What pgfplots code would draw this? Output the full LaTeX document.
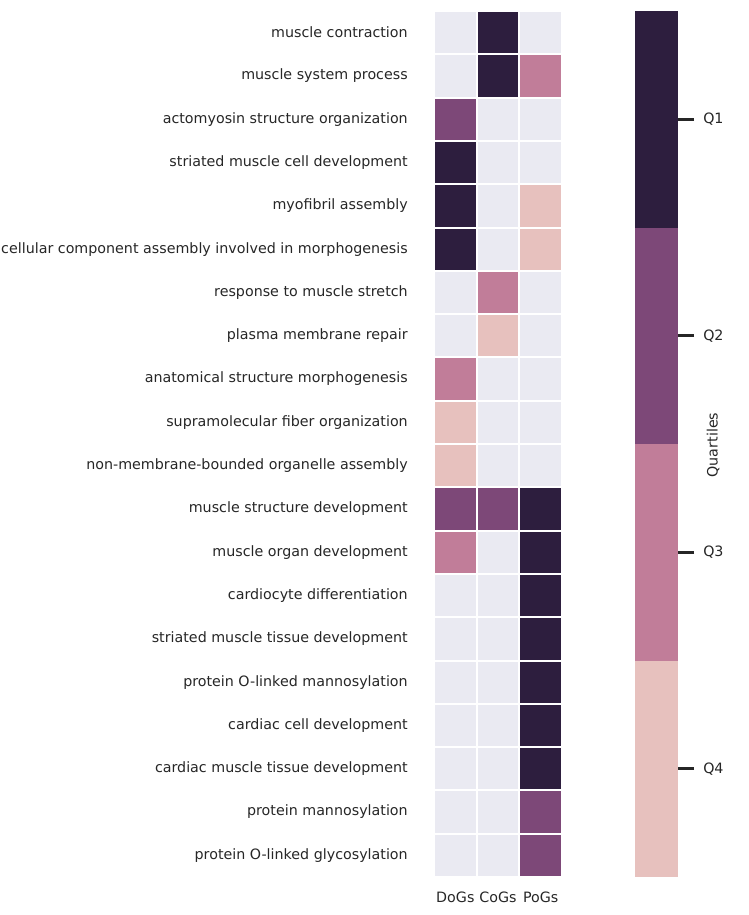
\documentclass[border=0pt]{standalone}
\usepackage{pgfplots}
\pgfplotsset{compat=1.18}
\usepackage{fontspec}
\setmainfont{DejaVu Sans}
\definecolor{txt}{RGB}{38,38,38}
\definecolor{bgc}{RGB}{234,234,242}
\definecolor{qa}{RGB}{45,30,62}
\definecolor{qb}{RGB}{125,72,120}
\definecolor{qc}{RGB}{193,125,153}
\definecolor{qd}{RGB}{231,193,190}
\begin{document}
\begin{tikzpicture}
\useasboundingbox (0,0) rectangle (561.75pt,686.25pt);
\begin{axis}[
  at={(325.5pt,28.5pt)}, anchor=south west,
  scale only axis, width=96pt, height=649.5pt,
  xmin=-0.5, xmax=2.5, ymin=-0.5, ymax=19.5, y dir=reverse,
  axis line style={draw=none},
  major tick length=0pt,
  xtick={0,1,2}, xticklabels={DoGs,CoGs,PoGs},
  ytick={0,...,19},
  yticklabels={muscle contraction,muscle system process,actomyosin structure organization,striated muscle cell development,myofibril assembly,cellular component assembly involved in morphogenesis,response to muscle stretch,plasma membrane repair,anatomical structure morphogenesis,supramolecular fiber organization,non-membrane-bounded organelle assembly,muscle structure development,muscle organ development,cardiocyte differentiation,striated muscle tissue development,protein O-linked mannosylation,cardiac cell development,cardiac muscle tissue development,protein mannosylation,protein O-linked glycosylation},
  tick label style={font=\fontsize{10.7}{12.5}\selectfont, text=txt},
  yticklabel style={inner sep=0pt, xshift=-19.5pt},
  xticklabel style={inner sep=0pt, yshift=-11pt},
  colormap={quart}{rgb255=(234,234,242) rgb255=(45,30,62) rgb255=(125,72,120) rgb255=(193,125,153) rgb255=(231,193,190)},
  colormap access=direct,
]
\addplot[matrix plot*, mesh/cols=3, point meta=explicit, draw=white, line width=1.5pt] table[meta=c] {
x y c
0 0 0
1 0 1
2 0 0
0 1 0
1 1 1
2 1 3
0 2 2
1 2 0
2 2 0
0 3 1
1 3 0
2 3 0
0 4 1
1 4 0
2 4 4
0 5 1
1 5 0
2 5 4
0 6 0
1 6 3
2 6 0
0 7 0
1 7 4
2 7 0
0 8 3
1 8 0
2 8 0
0 9 4
1 9 0
2 9 0
0 10 4
1 10 0
2 10 0
0 11 2
1 11 2
2 11 1
0 12 3
1 12 0
2 12 1
0 13 0
1 13 0
2 13 1
0 14 0
1 14 0
2 14 1
0 15 0
1 15 0
2 15 1
0 16 0
1 16 0
2 16 1
0 17 0
1 17 0
2 17 1
0 18 0
1 18 0
2 18 2
0 19 0
1 19 0
2 19 2
};
\end{axis}
\begin{axis}[
  at={(476.25pt,28.5pt)}, anchor=south west,
  scale only axis, width=32.25pt, height=649.5pt,
  xmin=0, xmax=1, ymin=0.5, ymax=4.5, y dir=reverse,
  axis line style={draw=none},
  xtick=\empty, ytick={1,2,3,4}, yticklabels={Q1,Q2,Q3,Q4},
  ytick pos=right, yticklabel pos=right, tick align=outside,
  major tick length=12pt, major tick style={line width=2.6pt, color=txt},
  tick label style={font=\fontsize{10.7}{12.5}\selectfont, text=txt},
  yticklabel style={inner sep=0pt, xshift=6.75pt},
]
\addplot[xbar, bar width=1, fill=qa, draw=none] coordinates {(1,1)};
\addplot[xbar, bar width=1, fill=qb, draw=none] coordinates {(1,2)};
\addplot[xbar, bar width=1, fill=qc, draw=none] coordinates {(1,3)};
\addplot[xbar, bar width=1, fill=qd, draw=none] coordinates {(1,4)};
\end{axis}
\node[rotate=90, text=txt, font=\fontsize{10.7}{12.5}\selectfont] at (534.75pt,352.5pt) {Quartiles};
\end{tikzpicture}
\end{document}
